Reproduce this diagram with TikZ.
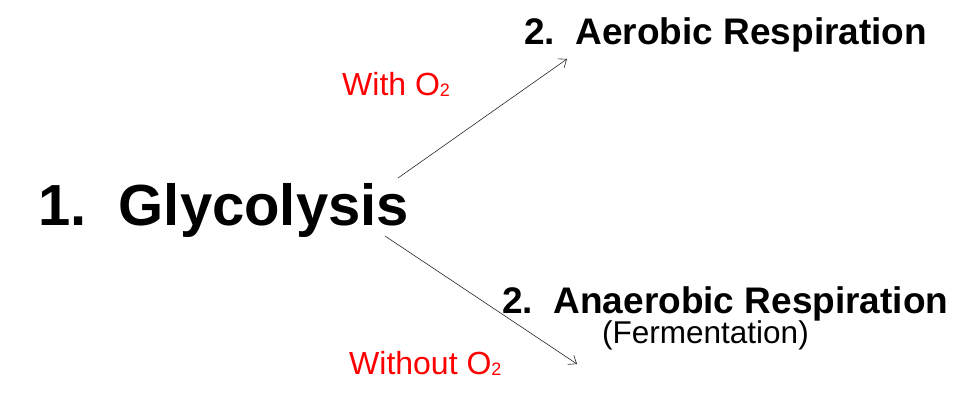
\documentclass[tikz,border=0pt]{standalone}
\usepackage{fontspec}
\setmainfont{Liberation Sans}
\usetikzlibrary{arrows.meta, positioning, calc}
\definecolor{condred}{HTML}{FF0000}
\newcommand{\Otwo}{O\raisebox{-1pt}{\fontsize{18}{18}\selectfont 2}}

\begin{document}
\begin{tikzpicture}[
        x=1pt, y=-1pt,
        every node/.style={inner sep=0, anchor=base west},
        start/.style={font=\fontsize{58}{62}\selectfont\bfseries},
        stage/.style={font=\fontsize{37}{40}\selectfont\bfseries},
        note/.style={font=\fontsize{31.5}{34}\selectfont},
        cond/.style={color=condred, font=\fontsize{32}{35}\selectfont},
        flow/.style={-{Straight Barb[length=7pt, width=11pt]}, draw=black!85, line width=0.6pt},
    ]
        \useasboundingbox (0,0) rectangle (972,401);

        \node[start] (glyco) at (38,225) {1.\ \ Glycolysis};
        \node[stage] (aerobic) at (524,45) {2.\ \ Aerobic Respiration};
        \node[stage] (anaerobic) at (502,313) {2.\ \ Anaerobic Respiration};
        \node[note, below right=30pt and 100pt of anaerobic.base west, anchor=base west] (ferment) {(Fermentation)};

        \node[cond] (withox) at (342,96) {With \Otwo};
        \node[cond] (withoutox) at (349,374) {Without \Otwo};

        \coordinate (glyup) at (398,178);
        \coordinate (glydown) at (385,236);
        \coordinate (aerotip) at (567,59);
        \coordinate (anaerotip) at (577,364);

        \draw[flow] (glyup) to (aerotip);
        \draw[flow] (glydown) to (anaerotip);

    \end{tikzpicture}
\end{document}
